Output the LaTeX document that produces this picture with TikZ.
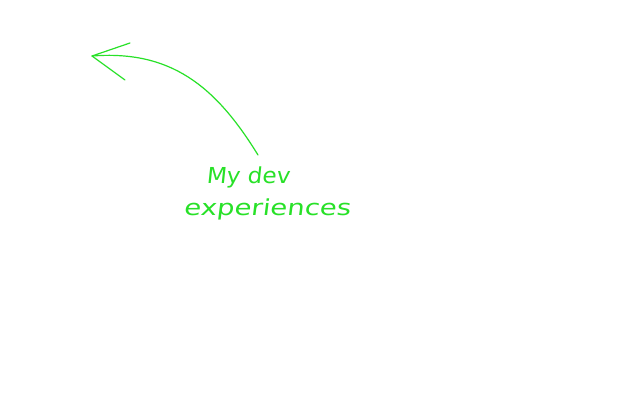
\documentclass[tikz,border=0pt]{standalone}
\usepackage{fontspec}
\setmainfont{DejaVu Sans}
\definecolor{pen}{RGB}{40,225,40}
\begin{document}
\begin{tikzpicture}[x=1pt,y=-1pt,pen line/.style={draw=pen,line width=1.2pt,line cap=round,line join=round},
lbl/.style={text=pen,font=\fontsize{22}{24}\selectfont\addfontfeature{FakeSlant=0.1},inner sep=0pt}]
\useasboundingbox[fill=white] (0,0) rectangle (640,400);
\coordinate (tail) at (258,155);
\coordinate (tip) at (92,56);
\coordinate (w1) at (130,43);
\coordinate (w2) at (125,80);
\draw[pen line] (tail) .. controls (215,85) and (170,50) .. (tip);
\draw[pen line] (w1) -- (tip) -- (w2);
\node[lbl,xscale=1.05] (t1) at (248,177) {My dev};
\node[lbl,xscale=1.25] (t2) at (267,209) {experiences};
\end{tikzpicture}
\end{document}
